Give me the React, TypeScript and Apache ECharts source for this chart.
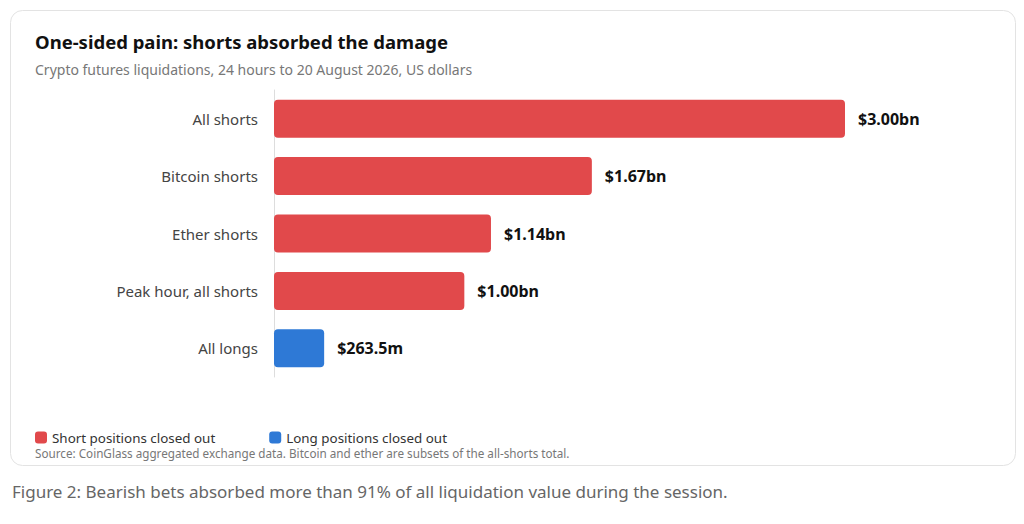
import { useEffect, useRef } from 'react';
import * as echarts from 'echarts';

const categories = ['All shorts', 'Bitcoin shorts', 'Ether shorts', 'Peak hour, all shorts', 'All longs'];
const shortValues = [3.0, 1.67, 1.14, 1.0, null];
const longValues = [null, null, null, null, 0.2635];
const valueLabels = ['$3.00bn', '$1.67bn', '$1.14bn', '$1.00bn', '$263.5m'];
const seriesNames = ['Short positions closed out', 'Long positions closed out'];

const FONT = '"Noto Sans", "Open Sans", sans-serif';
const RED = '#e1494b';
const BLUE = '#2e79d6';

export default function App() {
  const chartRef = useRef<HTMLDivElement>(null);

  useEffect(() => {
    if (!chartRef.current) return;
    const chart = echarts.init(chartRef.current, null, { renderer: 'svg' });

    const label = {
      show: true,
      position: 'right',
      distance: 13,
      color: '#111',
      fontSize: 16,
      fontWeight: 'bold',
      fontFamily: FONT,
      formatter: (p: any) => valueLabels[p.dataIndex]
    };

    const option = {
      animation: false,
      backgroundColor: '#fff',
      textStyle: { fontFamily: FONT },
      title: {
        text: 'One-sided pain: shorts absorbed the damage',
        subtext: 'Crypto futures liquidations, 24 hours to 20 August 2026, US dollars',
        left: 30,
        top: 27,
        itemGap: 11,
        textStyle: { fontSize: 18.5, fontWeight: 'bold', color: '#111', fontFamily: FONT },
        subtextStyle: { fontSize: 14, color: '#777', fontFamily: FONT }
      },
      legend: {
        data: seriesNames,
        left: 30,
        top: 426,
        icon: 'roundRect',
        itemWidth: 12,
        itemHeight: 12,
        itemGap: 54,
        textStyle: { fontSize: 13.4, lineHeight: 13, color: '#333', fontFamily: FONT }
      },
      grid: { left: 274, right: 179, top: 90, height: 287 },
      xAxis: { type: 'value', min: 0, max: 3, show: false },
      yAxis: {
        type: 'category',
        data: categories,
        inverse: true,
        axisLine: { show: true, lineStyle: { color: '#ddd' } },
        axisTick: { show: false },
        axisLabel: { color: '#444', fontSize: 15, margin: 16, fontFamily: FONT }
      },
      series: [
        {
          name: seriesNames[0],
          type: 'bar',
          data: shortValues,
          barWidth: 38,
          barGap: '-100%',
          itemStyle: { color: RED, borderRadius: 4 },
          label
        },
        {
          name: seriesNames[1],
          type: 'bar',
          data: longValues,
          barWidth: 38,
          itemStyle: { color: BLUE, borderRadius: 4 },
          label
        }
      ],
      graphic: [
        {
          type: 'rect',
          z: -10,
          silent: true,
          shape: { x: 10.5, y: 10.5, width: 1005, height: 455, r: 12 },
          style: { fill: '#fff', stroke: '#e3e3e3', lineWidth: 1 }
        },
        {
          type: 'text',
          left: 35,
          top: 447,
          style: {
            text: 'Source: CoinGlass aggregated exchange data. Bitcoin and ether are subsets of the all-shorts total.',
            fill: '#777',
            fontSize: 11.7,
            lineHeight: 12,
            fontFamily: FONT
          }
        },
        {
          type: 'text',
          left: 12,
          top: 483,
          style: {
            text: 'Figure 2: Bearish bets absorbed more than 91% of all liquidation value during the session.',
            fill: '#666',
            fontSize: 17,
            fontFamily: FONT
          }
        }
      ]
    };

    chart.setOption(option);
    return () => chart.dispose();
  }, []);

  return (
    <div style={{ position: 'fixed', left: 0, top: 0, width: 1024, height: 524 }}>
      <div ref={chartRef} style={{ width: '100%', height: '100%' }}></div>
    </div>
  );
}
